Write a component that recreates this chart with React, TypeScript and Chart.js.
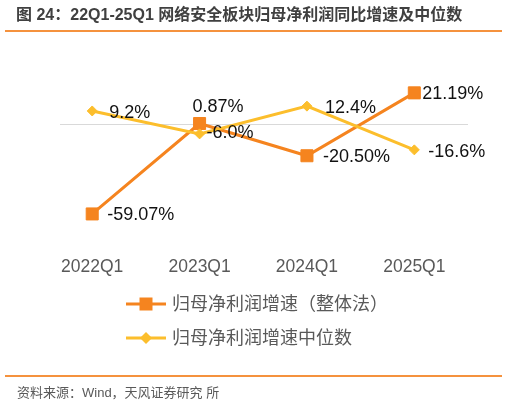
import React, { useEffect, useRef } from "react";
import { Chart, registerables } from "chart.js";

Chart.register(...registerables);

// data
const categories = ["2022Q1", "2023Q1", "2024Q1", "2025Q1"];
const totalGrowth = [-59.07, 0.87, -20.5, 21.19]; // 归母净利润增速（整体法）
const medianGrowth = [9.2, -6.0, 12.4, -16.6]; // 归母净利润增速中位数
const seriesNames = ["归母净利润增速（整体法）", "归母净利润增速中位数"];
const decimals = [2, 1];

const ORANGE = "#F5841F";
const YELLOW = "#FCBE2C";
const FONT = '"Liberation Sans", Arial, "Noto Sans CJK SC", sans-serif';

// label offset from its point, per series / per point
const labelOffsets = [
  [[15, 1], [-7, -16], [16, 1], [8, 1]],
  [[17, 2], [7, -1], [18, 2], [14, 2]],
];

const valueLabels = {
  id: "valueLabels",
  afterDatasetsDraw(chart: Chart) {
    const ctx = chart.ctx;
    ctx.save();
    ctx.font = `18px ${FONT}`;
    ctx.fillStyle = "#111111";
    ctx.textAlign = "left";
    ctx.textBaseline = "middle";
    chart.data.datasets.forEach((ds: any, di: number) => {
      const meta = chart.getDatasetMeta(di);
      meta.data.forEach((pt: any, i: number) => {
        const v = ds.data[i].y as number;
        const [dx, dy] = labelOffsets[di][i];
        ctx.fillText(v.toFixed(decimals[di]) + "%", pt.x + dx, pt.y + dy);
      });
    });
    ctx.restore();
  },
};

// two-row legend, left aligned like the original
const stackedLegend = {
  id: "stackedLegend",
  afterDraw(chart: Chart) {
    const ctx = chart.ctx;
    const base = chart.chartArea.bottom;
    const rows = [base + 58.5, base + 92.5];
    const x0 = 126;
    ctx.save();
    chart.data.datasets.forEach((ds: any, i: number) => {
      const y = rows[i];
      ctx.strokeStyle = ds.borderColor;
      ctx.lineWidth = 3;
      ctx.beginPath();
      ctx.moveTo(x0, y);
      ctx.lineTo(x0 + 40, y);
      ctx.stroke();
      ctx.fillStyle = ds.borderColor;
      ctx.beginPath();
      if (ds.pointStyle === "rect") {
        ctx.rect(x0 + 13.5, y - 6.5, 13, 13);
      } else {
        ctx.moveTo(x0 + 20, y - 6);
        ctx.lineTo(x0 + 26, y);
        ctx.lineTo(x0 + 20, y + 6);
        ctx.lineTo(x0 + 14, y);
        ctx.closePath();
      }
      ctx.fill();
      ctx.font = `18px ${FONT}`;
      ctx.fillStyle = "#595959";
      ctx.textAlign = "left";
      ctx.textBaseline = "middle";
      ctx.fillText(ds.label, x0 + 46, y + 1.5);
    });
    ctx.restore();
  },
};

const ChartCanvas: React.FC = () => {
  const canvasRef = useRef<HTMLCanvasElement | null>(null);

  useEffect(() => {
    if (!canvasRef.current) return;
    const chart = new Chart(canvasRef.current, {
      type: "line",
      data: {
        datasets: [
          {
            label: seriesNames[0],
            data: totalGrowth.map((v, i) => ({ x: i, y: v })),
            borderColor: ORANGE,
            backgroundColor: ORANGE,
            borderWidth: 3,
            pointStyle: "rect",
            pointRadius: 8.5,
            pointBorderWidth: 1,
            order: 2,
          },
          {
            label: seriesNames[1],
            data: medianGrowth.map((v, i) => ({ x: i, y: v })),
            borderColor: YELLOW,
            backgroundColor: YELLOW,
            borderWidth: 3,
            pointStyle: "rectRot",
            pointRadius: 5,
            pointBorderWidth: 1,
            order: 1,
          },
        ],
      },
      options: {
        animation: false,
        responsive: false,
        maintainAspectRatio: false,
        layout: { padding: { left: 60, right: 40, top: 64.5, bottom: 115.5 } },
        plugins: {
          legend: { display: false },
          tooltip: { enabled: false },
        },
        scales: {
          x: {
            type: "linear",
            min: -0.3,
            max: 3.5,
            afterBuildTicks: (scale: any) => {
              scale.ticks = categories.map((_, i) => ({ value: i }));
            },
            grid: { display: false, drawTicks: false },
            border: { display: false },
            ticks: {
              autoSkip: false,
              maxRotation: 0,
              padding: 11,
              color: "#595959",
              font: { family: FONT, size: 17.5 },
              callback: (v: any) => categories[v] ?? "",
            },
          },
          y: {
            min: -80,
            max: 40,
            border: { display: false },
            grid: {
              drawTicks: false,
              lineWidth: 1,
              color: (c: any) => (c.tick && c.tick.value === 0 ? "#D9D9D9" : "transparent"),
            },
            ticks: { display: false, stepSize: 20 },
          },
        },
      },
      plugins: [valueLabels, stackedLegend],
    });
    return () => chart.destroy();
  }, []);

  return (
    <canvas
      ref={canvasRef}
      width={508}
      height={404}
      style={{ position: "absolute", left: 0, top: 0 }}
    />
  );
};

export default function App() {
  return (
    <div
      style={{
        position: "absolute",
        left: 0,
        top: 0,
        width: 508,
        height: 404,
        background: "#ffffff",
        fontFamily: FONT,
      }}
    >
      <ChartCanvas />
      <div
        style={{
          position: "absolute",
          left: 16,
          top: 5,
          fontSize: 16,
          lineHeight: "20px",
          fontWeight: "bold",
          color: "#404040",
          whiteSpace: "nowrap",
        }}
      >
        图 24：22Q1-25Q1 网络安全板块归母净利润同比增速及中位数
      </div>
      <div
        style={{
          position: "absolute",
          left: 5,
          top: 30,
          width: 497,
          height: 1.5,
          background: "#F5923E",
        }}
      />
      <div
        style={{
          position: "absolute",
          left: 5,
          top: 375,
          width: 497,
          height: 1.5,
          background: "#F5923E",
        }}
      />
      <div
        style={{
          position: "absolute",
          left: 17,
          top: 384,
          fontSize: 13,
          lineHeight: "18px",
          color: "#595959",
          whiteSpace: "nowrap",
        }}
      >
        资料来源：Wind，天风证券研究 所
      </div>
    </div>
  );
}
